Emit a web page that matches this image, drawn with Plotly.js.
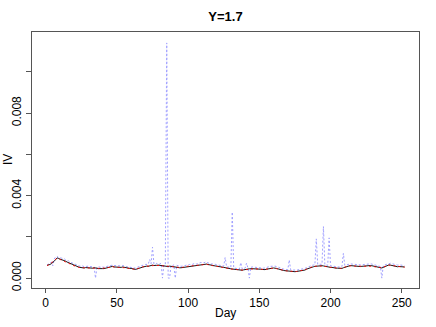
<!DOCTYPE html>
<html>
<head>
<meta charset="utf-8">
<script src="https://cdn.plot.ly/plotly-3.0.1.min.js"></script>
<style>
  html, body { margin: 0; padding: 0; background: #fff; }
  #chart { width: 436px; height: 327px; }
</style>
</head>
<body>
<div id="chart"></div>
<script>
// IV per day (three estimates)
const ivBlack = [
  0.00062, 0.00063, 0.00066, 0.00070, 0.00075, 0.00082, 0.00090, 0.00098, 0.00095, 0.00093,
  0.00090, 0.00088, 0.00086, 0.00082, 0.00078, 0.00075, 0.00070, 0.00066, 0.00064, 0.00060,
  0.00058, 0.00056, 0.00054, 0.00052, 0.00050, 0.00051, 0.00049, 0.00051, 0.00050, 0.00050,
  0.00048, 0.00049, 0.00048, 0.00050, 0.00047, 0.00048, 0.00046, 0.00047, 0.00048, 0.00046,
  0.00046, 0.00048, 0.00050, 0.00051, 0.00052, 0.00055, 0.00057, 0.00054, 0.00053, 0.00052,
  0.00053, 0.00051, 0.00052, 0.00054, 0.00052, 0.00050, 0.00049, 0.00048, 0.00047, 0.00047,
  0.00045, 0.00043, 0.00042, 0.00044, 0.00047, 0.00050, 0.00052, 0.00053, 0.00055, 0.00057,
  0.00058, 0.00057, 0.00060, 0.00062, 0.00063, 0.00061, 0.00060, 0.00062, 0.00063, 0.00062,
  0.00060, 0.00061, 0.00059, 0.00058, 0.00057, 0.00056, 0.00058, 0.00055, 0.00056, 0.00055,
  0.00053, 0.00052, 0.00051, 0.00050, 0.00050, 0.00051, 0.00053, 0.00055, 0.00056, 0.00057,
  0.00058, 0.00057, 0.00060, 0.00061, 0.00062, 0.00061, 0.00063, 0.00064, 0.00065, 0.00066,
  0.00065, 0.00067, 0.00068, 0.00066, 0.00064, 0.00062, 0.00061, 0.00060, 0.00059, 0.00058,
  0.00056, 0.00057, 0.00055, 0.00053, 0.00052, 0.00050, 0.00049, 0.00047, 0.00046, 0.00045,
  0.00044, 0.00043, 0.00041, 0.00040, 0.00039, 0.00038, 0.00037, 0.00038, 0.00040, 0.00042,
  0.00042, 0.00044, 0.00045, 0.00046, 0.00046, 0.00045, 0.00044, 0.00045, 0.00044, 0.00044,
  0.00043, 0.00042, 0.00041, 0.00041, 0.00043, 0.00045, 0.00046, 0.00047, 0.00048, 0.00049,
  0.00049, 0.00047, 0.00045, 0.00042, 0.00040, 0.00039, 0.00037, 0.00036, 0.00035, 0.00034,
  0.00033, 0.00033, 0.00032, 0.00031, 0.00031, 0.00032, 0.00033, 0.00034, 0.00035, 0.00036,
  0.00037, 0.00039, 0.00043, 0.00046, 0.00049, 0.00052, 0.00054, 0.00055, 0.00057, 0.00058,
  0.00058, 0.00059, 0.00060, 0.00060, 0.00059, 0.00057, 0.00056, 0.00055, 0.00053, 0.00052,
  0.00052, 0.00050, 0.00049, 0.00048, 0.00048, 0.00047, 0.00046, 0.00047, 0.00050, 0.00053,
  0.00055, 0.00058, 0.00060, 0.00061, 0.00060, 0.00059, 0.00058, 0.00057, 0.00058, 0.00057,
  0.00056, 0.00057, 0.00058, 0.00057, 0.00058, 0.00059, 0.00060, 0.00061, 0.00060, 0.00058,
  0.00056, 0.00054, 0.00053, 0.00051, 0.00049, 0.00049, 0.00052, 0.00056, 0.00058, 0.00061,
  0.00064, 0.00063, 0.00061, 0.00060, 0.00057, 0.00055, 0.00055, 0.00056, 0.00056, 0.00055,
  0.00054, 0.00054
];

const ivRed = [
  0.00060, 0.00064, 0.00068, 0.00073, 0.00079, 0.00086, 0.00093, 0.00096, 0.00094, 0.00091,
  0.00089, 0.00087, 0.00084, 0.00080, 0.00077, 0.00073, 0.00069, 0.00066, 0.00062, 0.00059,
  0.00057, 0.00055, 0.00053, 0.00051, 0.00051, 0.00050, 0.00050, 0.00050, 0.00049, 0.00050,
  0.00049, 0.00048, 0.00049, 0.00048, 0.00048, 0.00047, 0.00047, 0.00046, 0.00047, 0.00047,
  0.00047, 0.00049, 0.00050, 0.00052, 0.00053, 0.00055, 0.00055, 0.00054, 0.00052, 0.00053,
  0.00052, 0.00052, 0.00053, 0.00053, 0.00051, 0.00050, 0.00048, 0.00048, 0.00046, 0.00046,
  0.00044, 0.00043, 0.00043, 0.00045, 0.00048, 0.00051, 0.00052, 0.00054, 0.00056, 0.00057,
  0.00059, 0.00059, 0.00061, 0.00062, 0.00062, 0.00061, 0.00061, 0.00062, 0.00062, 0.00061,
  0.00060, 0.00060, 0.00058, 0.00058, 0.00057, 0.00057, 0.00057, 0.00056, 0.00055, 0.00054,
  0.00053, 0.00052, 0.00051, 0.00051, 0.00051, 0.00052, 0.00054, 0.00055, 0.00056, 0.00058,
  0.00058, 0.00059, 0.00060, 0.00061, 0.00061, 0.00062, 0.00063, 0.00064, 0.00065, 0.00065,
  0.00066, 0.00067, 0.00067, 0.00065, 0.00063, 0.00062, 0.00061, 0.00060, 0.00058, 0.00057,
  0.00056, 0.00056, 0.00054, 0.00053, 0.00051, 0.00050, 0.00048, 0.00047, 0.00046, 0.00044,
  0.00043, 0.00042, 0.00041, 0.00040, 0.00039, 0.00038, 0.00038, 0.00039, 0.00040, 0.00041,
  0.00043, 0.00044, 0.00045, 0.00045, 0.00046, 0.00045, 0.00045, 0.00044, 0.00044, 0.00043,
  0.00043, 0.00042, 0.00042, 0.00042, 0.00044, 0.00045, 0.00046, 0.00047, 0.00048, 0.00048,
  0.00048, 0.00046, 0.00044, 0.00042, 0.00040, 0.00038, 0.00037, 0.00036, 0.00035, 0.00034,
  0.00033, 0.00032, 0.00032, 0.00031, 0.00032, 0.00032, 0.00033, 0.00034, 0.00035, 0.00037,
  0.00038, 0.00040, 0.00043, 0.00047, 0.00050, 0.00052, 0.00054, 0.00056, 0.00057, 0.00058,
  0.00059, 0.00059, 0.00059, 0.00059, 0.00058, 0.00057, 0.00056, 0.00054, 0.00053, 0.00052,
  0.00051, 0.00050, 0.00049, 0.00048, 0.00047, 0.00047, 0.00047, 0.00048, 0.00051, 0.00054,
  0.00056, 0.00058, 0.00059, 0.00060, 0.00060, 0.00059, 0.00058, 0.00058, 0.00057, 0.00057,
  0.00057, 0.00057, 0.00057, 0.00058, 0.00058, 0.00059, 0.00060, 0.00060, 0.00059, 0.00057,
  0.00055, 0.00054, 0.00052, 0.00050, 0.00050, 0.00050, 0.00053, 0.00056, 0.00059, 0.00061,
  0.00063, 0.00062, 0.00061, 0.00059, 0.00057, 0.00056, 0.00055, 0.00055, 0.00055, 0.00054,
  0.00053, 0.00053
];

const ivBlue = [
  0.00063, 0.00068, 0.00072, 0.00078, 0.00060, 0.00092, 0.00103, 0.00105, 0.00100, 0.00101,
  0.00097, 0.00095, 0.00094, 0.00088, 0.00086, 0.00084, 0.00078, 0.00075, 0.00074, 0.00070,
  0.00066, 0.00062, 0.00060, 0.00058, 0.00057, 0.00059, 0.00055, 0.00057, 0.00056, 0.00058,
  0.00056, 0.00055, 0.00053, 0.00054, 0.00000, 0.00052, 0.00055, 0.00053, 0.00052, 0.00054,
  0.00052, 0.00055, 0.00057, 0.00060, 0.00062, 0.00064, 0.00063, 0.00061, 0.00060, 0.00059,
  0.00060, 0.00057, 0.00059, 0.00061, 0.00058, 0.00056, 0.00055, 0.00054, 0.00053, 0.00052,
  0.00050, 0.00049, 0.00048, 0.00052, 0.00055, 0.00058, 0.00060, 0.00062, 0.00064, 0.00066,
  0.00068, 0.00067, 0.00090, 0.00070, 0.00150, 0.00068, 0.00066, 0.00072, 0.00070, 0.00068,
  0.00072, 0.00000, 0.00066, 0.00068, 0.01140, 0.00000, 0.00000, 0.00062, 0.00060, 0.00064,
  0.00000, 0.00062, 0.00060, 0.00058, 0.00057, 0.00058, 0.00060, 0.00062, 0.00063, 0.00065,
  0.00066, 0.00064, 0.00068, 0.00070, 0.00072, 0.00068, 0.00072, 0.00074, 0.00076, 0.00075,
  0.00074, 0.00077, 0.00078, 0.00074, 0.00070, 0.00068, 0.00069, 0.00066, 0.00067, 0.00065,
  0.00063, 0.00064, 0.00062, 0.00060, 0.00058, 0.00100, 0.00056, 0.00054, 0.00052, 0.00051,
  0.00320, 0.00050, 0.00048, 0.00046, 0.00045, 0.00044, 0.00075, 0.00044, 0.00046, 0.00048,
  0.00072, 0.00050, 0.00000, 0.00052, 0.00054, 0.00053, 0.00052, 0.00054, 0.00052, 0.00051,
  0.00050, 0.00049, 0.00048, 0.00049, 0.00052, 0.00055, 0.00056, 0.00057, 0.00058, 0.00057,
  0.00058, 0.00056, 0.00053, 0.00050, 0.00047, 0.00046, 0.00044, 0.00043, 0.00042, 0.00041,
  0.00088, 0.00040, 0.00039, 0.00038, 0.00037, 0.00039, 0.00040, 0.00041, 0.00042, 0.00044,
  0.00045, 0.00047, 0.00050, 0.00054, 0.00058, 0.00060, 0.00062, 0.00063, 0.00065, 0.00190,
  0.00066, 0.00067, 0.00068, 0.00067, 0.00250, 0.00064, 0.00063, 0.00062, 0.00195, 0.00060,
  0.00059, 0.00057, 0.00056, 0.00055, 0.00054, 0.00054, 0.00053, 0.00056, 0.00120, 0.00062,
  0.00064, 0.00066, 0.00068, 0.00069, 0.00068, 0.00067, 0.00066, 0.00065, 0.00066, 0.00065,
  0.00064, 0.00065, 0.00066, 0.00065, 0.00066, 0.00067, 0.00068, 0.00069, 0.00068, 0.00066,
  0.00064, 0.00062, 0.00060, 0.00058, 0.00056, 0.00000, 0.00060, 0.00064, 0.00066, 0.00070,
  0.00073, 0.00072, 0.00070, 0.00068, 0.00066, 0.00064, 0.00063, 0.00064, 0.00064, 0.00062,
  0.00061, 0.00061
];

const days = ivBlack.map((_, i) => i + 1); // day index 1..252

const yTickVals = [0, 0.002, 0.004, 0.006, 0.008, 0.010];
const yTickText = ["0.000", "", "0.004", "", "0.008", ""];
const xTickVals = [0, 50, 100, 150, 200, 250];

const fontFamily = "Liberation Sans, Arial, Helvetica, sans-serif";

Plotly.newPlot("chart", [
  {
    x: days, y: ivBlue, type: "scatter", mode: "lines",
    line: { color: "#a0a0ff", width: 1, dash: "2px,2px" },
    hoverinfo: "skip"
  },
  {
    x: days, y: ivBlack, type: "scatter", mode: "lines",
    line: { color: "#000000", width: 0.9 },
    hoverinfo: "skip"
  },
  {
    x: days, y: ivRed, type: "scatter", mode: "lines",
    line: { color: "#ff0000", width: 0.9, dash: "2px,3px" },
    hoverinfo: "skip"
  }
], {
  width: 436,
  height: 327,
  showlegend: false,
  paper_bgcolor: "#fff",
  plot_bgcolor: "#fff",
  font: { family: fontFamily, color: "#000", size: 12 },
  margin: { l: 32, r: 17, t: 32, b: 39 },
  title: {
    text: "<b>Y=1.7</b>",
    font: { size: 13 },
    x: 0.5, xref: "paper",
    y: 1 - 16 / 327, yref: "container", yanchor: "middle"
  },
  xaxis: {
    range: [-9.6, 262.1],
    tickvals: xTickVals,
    ticks: "outside", ticklen: 4, tickcolor: "#555",
    showgrid: false, zeroline: false,
    showline: true, mirror: true, linecolor: "#555", linewidth: 1,
    title: { text: "" }
  },
  yaxis: {
    range: [-0.00048, 0.01193],
    tickvals: yTickVals,
    ticktext: yTickText,
    tickangle: -90,
    ticks: "outside", ticklen: 5, tickcolor: "#555",
    showgrid: false, zeroline: false,
    showline: true, mirror: true, linecolor: "#555", linewidth: 1,
    title: { text: "" }
  },
  annotations: [
    { text: "Day", xref: "paper", yref: "paper", x: 0.5, y: -25 / 256,
      xanchor: "center", yanchor: "middle", showarrow: false, font: { size: 12 } },
    { text: "IV", xref: "paper", yref: "paper", x: -24 / 387, y: 0.5, textangle: -90,
      xanchor: "center", yanchor: "middle", showarrow: false, font: { size: 12 } }
  ]
}, { displayModeBar: false, staticPlot: true });
</script>
</body>
</html>
